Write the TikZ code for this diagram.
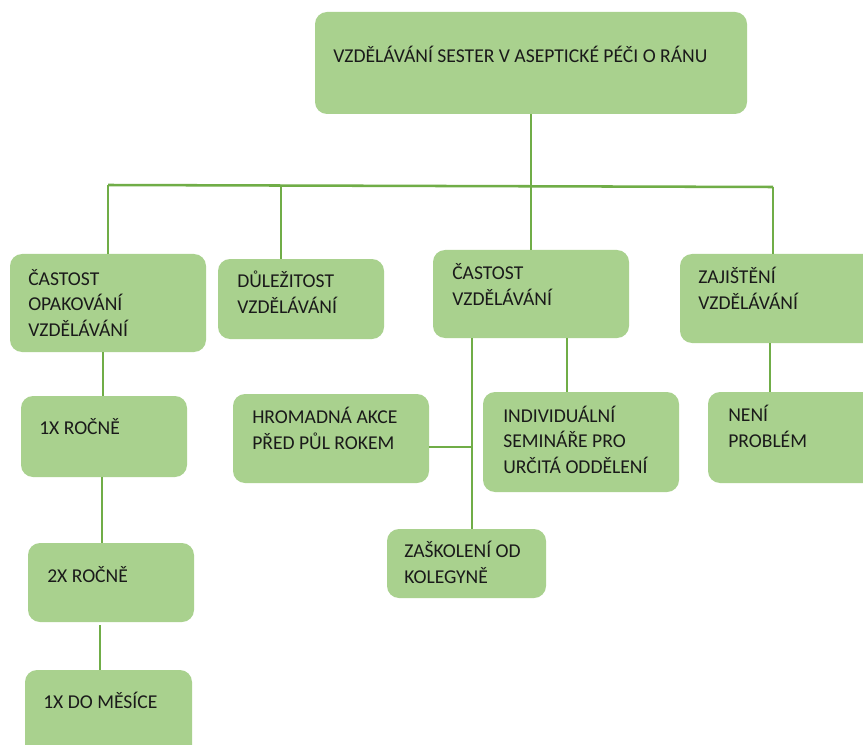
\documentclass[tikz,border=0pt]{standalone}
\usepackage{fontspec}
\setmainfont{Carlito}
\usetikzlibrary{fit}
\definecolor{boxfill}{HTML}{A9D18E}
\definecolor{linkcol}{HTML}{70AD47}
\definecolor{ink}{HTML}{1A1A1A}
\tikzset{
  box/.style={fill=boxfill, draw=none, rounded corners=9pt, inner sep=0pt},
  % anchored at the baseline of the last line
  txt/.style={anchor=base west, align=left, inner sep=0pt, text=ink,
    font=\fontsize{14.7}{19.1}\selectfont},
  link/.style={draw=linkcol, line width=1.9pt}
}
\begin{document}
\begin{tikzpicture}[x=0.75pt, y=-0.75pt]
\clip (0,0) rectangle (863,745);
\fill[white] (0,0) rectangle (863,745);

% boxes
\node[box, fit={(315,12) (747,114)}] (top) {};
\node[box, fit={(10,254) (206,352)}] (c1) {};
\node[box, fit={(218,259) (384,339)}] (c2) {};
\node[box, fit={(433,250) (629,338)}] (c3) {};
\node[box, fit={(680,254) (890,343)}] (c4) {};
\node[box, fit={(21,396) (187,477)}] (r1) {};
\node[box, fit={(28,543) (194,622)}] (r2) {};
\node[box, fit={(25,670) (192,770)}] (r3) {};
\node[box, fit={(233,394) (429,483)}] (hro) {};
\node[box, fit={(387,529) (546,598)}] (zas) {};
\node[box, fit={(483,392) (679,492)}] (ind) {};
\node[box, fit={(708,392) (890,483)}] (nen) {};

% texts
\node[txt] at (333,63) {VZDĚLÁVÁNÍ SESTER V ASEPTICKÉ PÉČI O RÁNU};
\node[txt] at (28,336) {ČASTOST\\OPAKOVÁNÍ\\VZDĚLÁVÁNÍ};
\node[txt] at (237,313) {DŮLEŽITOST\\VZDĚLÁVÁNÍ};
\node[txt] at (452,305) {ČASTOST\\VZDĚLÁVÁNÍ};
\node[txt] at (698,309) {ZAJIŠTĚNÍ\\VZDĚLÁVÁNÍ};
\node[txt] at (39,434) {1X ROČNĚ};
\node[txt] at (47,582) {2X ROČNĚ};
\node[txt] at (43,708) {1X DO MĚSÍCE};
\node[txt] at (252,449) {HROMADNÁ AKCE\\PŘED PŮL ROKEM};
\node[txt] at (503,473) {INDIVIDUÁLNÍ\\SEMINÁŘE PRO\\URČITÁ ODDĚLENÍ};
\node[txt] at (728,447) {NENÍ\\PROBLÉM};
\node[txt] at (404,583) {ZAŠKOLENÍ OD\\KOLEGYNĚ};

% bus line under the title box
\coordinate (busl) at (108,185);
\coordinate (busr) at (773,187);
\coordinate (bus2) at (281,186);
\coordinate (jn) at (472,447);

\draw[link] (top.south) -- (c3.north);
\draw[link] (busl) -- (busr);
\draw[link] (busl) -- (busl |- c1.north);
\draw[link] (bus2) -- (bus2 |- c2.north);
\draw[link] (busr) -- (busr |- c4.north);

\draw[link] (103,0 |- c1.south) -- (103,0 |- r1.north);
\draw[link] (102,0 |- r1.south) -- (102,0 |- r2.north);
\draw[link] (100,625) -- (100,0 |- r3.north);

\draw[link] (jn |- c3.south) -- (jn |- zas.north);
\draw[link] (hro.east |- jn) -- (jn);
\draw[link] (567,0 |- c3.south) -- (567,0 |- ind.north);
\draw[link] (770,0 |- c4.south) -- (770,0 |- nen.north);
\end{tikzpicture}
\end{document}
